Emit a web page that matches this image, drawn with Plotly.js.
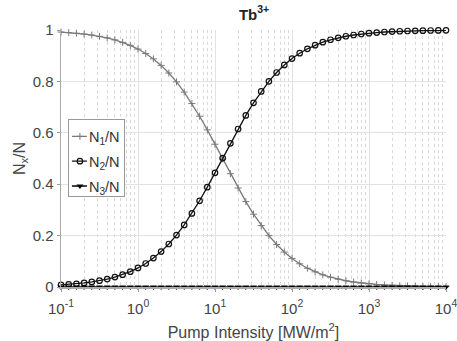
<!DOCTYPE html>
<html>
<head>
<meta charset="utf-8">
<script src="https://cdn.plot.ly/plotly-3.0.1.min.js"></script>
<style>html,body{margin:0;padding:0;background:#fff;}#chart{width:457px;height:341px;}</style>
</head>
<body>
<div id="chart"></div>
<script>
const intensity = [
  0.1, 0.12589, 0.15849, 0.19953, 0.25119, 0.31623, 0.39811, 0.50119, 0.63096, 0.79433,
  1, 1.2589, 1.5849, 1.9953, 2.5119, 3.1623, 3.9811, 5.0119, 6.3096, 7.9433,
  10, 12.589, 15.849, 19.953, 25.119, 31.623, 39.811, 50.119, 63.096, 79.433,
  100, 125.89, 158.49, 199.53, 251.19, 316.23, 398.11, 501.19, 630.96, 794.33,
  1000, 1258.9, 1584.9, 1995.3, 2511.9, 3162.3, 3981.1, 5011.9, 6309.6, 7943.3, 10000
];
const n1 = [
  0.99206, 0.99003, 0.98748, 0.98429, 0.98030, 0.97533, 0.96913, 0.96145, 0.95195, 0.94025,
  0.92593, 0.90850, 0.88748, 0.86235, 0.83267, 0.79809, 0.75844, 0.71380, 0.66456, 0.61144,
  0.55556, 0.49823, 0.44093, 0.38517, 0.33228, 0.28330, 0.23896, 0.19962, 0.16535, 0.13597,
  0.11111, 0.09032, 0.07310, 0.05895, 0.04740, 0.03803, 0.03044, 0.02433, 0.01943, 0.01549,
  0.01235, 0.00983, 0.00783, 0.00623, 0.00495, 0.00394, 0.00313, 0.00249, 0.00198, 0.00157, 0.00125
];
const n2 = [
  0.00794, 0.00997, 0.01252, 0.01571, 0.01970, 0.02467, 0.03087, 0.03855, 0.04805, 0.05975,
  0.07407, 0.09150, 0.11252, 0.13765, 0.16733, 0.20191, 0.24156, 0.28620, 0.33544, 0.38856,
  0.44444, 0.50177, 0.55907, 0.61483, 0.66772, 0.71670, 0.76104, 0.80038, 0.83465, 0.86403,
  0.88889, 0.90968, 0.92690, 0.94105, 0.95260, 0.96197, 0.96956, 0.97567, 0.98057, 0.98451,
  0.98765, 0.99017, 0.99217, 0.99377, 0.99505, 0.99606, 0.99687, 0.99751, 0.99802, 0.99843, 0.99875
];
const n3 = [
  0,0,0,0,0,0,0,0,0,0,
  0,0,0,0,0,0,0,0,0,0,
  0,0,0,0,0,0,0,0,0,0,
  0,0,0,0,0,0,0,0,0,0,
  0,0,0,0,0,0,0,0,0,0,0
];
const seriesNames = ['N<sub>1</sub>/N', 'N<sub>2</sub>/N', 'N<sub>3</sub>/N'];
const xTickVals = [0.1, 1, 10, 100, 1000, 10000];
const xTickText = ['10<sup>-1</sup>', '10<sup>0</sup>', '10<sup>1</sup>', '10<sup>2</sup>', '10<sup>3</sup>', '10<sup>4</sup>'];
const yTickVals = [0, 0.2, 0.4, 0.6, 0.8, 1];
const yTickText = ['0', '0.2', '0.4', '0.6', '0.8', '1'];

const FONT = 'Liberation Sans, Arial, sans-serif';
const traces = [
  {x: intensity, y: n1, name: seriesNames[0], legendgroup: 'g1', mode: 'lines+markers', cliponaxis: false,
   line: {color: '#7a7a7a', width: 1.3},
   marker: {symbol: 'cross-thin-open', size: 5, color: '#7a7a7a', line: {color: '#7a7a7a', width: 1}}},
  {x: intensity, y: n2, name: seriesNames[1], legendgroup: 'g2', mode: 'lines+markers', cliponaxis: false,
   line: {color: '#111', width: 1.3},
   marker: {symbol: 'circle-open', size: 5.5, color: '#111', line: {color: '#111', width: 1.2}}},
  {x: intensity, y: n3, name: seriesNames[2], legendgroup: 'g3', mode: 'lines+markers', cliponaxis: false,
   line: {color: '#000', width: 1.5},
   marker: {symbol: 'triangle-down', size: 6, color: '#000'}}
];
const layout = {
  width: 457, height: 341,
  margin: {l: 61, r: 11, t: 30, b: 54},
  paper_bgcolor: '#fff', plot_bgcolor: '#fff',
  font: {family: FONT, color: '#333', size: 14},
  title: {text: '<b>Tb<sup>3+</sup></b>', x: 0.556, xanchor: 'center', y: 0.958, yanchor: 'middle',
          font: {family: FONT, size: 15, color: '#222'}},
  showlegend: true,
  legend: {x: 0.018, y: 0.652, xanchor: 'left', yanchor: 'top', bgcolor: '#fff',
           bordercolor: '#999', borderwidth: 1, font: {family: FONT, size: 14.5, color: '#333'},
           tracegroupgap: 3, itemwidth: 30},
  xaxis: {
    type: 'log', range: [-1, 4],
    tickvals: xTickVals, ticktext: xTickText,
    ticks: 'outside', ticklen: 3, tickcolor: '#999',
    ticklabeloverflow: 'allow', ticklabelstandoff: 4,
    showgrid: true, gridcolor: '#e2e2e2', gridwidth: 1,
    minor: {dtick: 'D1', showgrid: true, gridcolor: '#d8d8d8', griddash: 'dot', ticks: ''},
    showline: true, linecolor: '#aaa', linewidth: 1.5,
    zeroline: false,
    tickfont: {family: FONT, size: 15, color: '#444'},
    title: {text: 'Pump Intensity [MW/m<sup>2</sup>]', font: {family: FONT, size: 16, color: '#444'}, standoff: 11}
  },
  yaxis: {
    range: [0, 1],
    tickvals: yTickVals, ticktext: yTickText,
    ticks: 'outside', ticklen: 3, tickcolor: '#999',
    ticklabeloverflow: 'allow',
    showgrid: true, gridcolor: '#e2e2e2', gridwidth: 1,
    showline: true, linecolor: '#aaa', linewidth: 1.5,
    zeroline: false,
    tickfont: {family: FONT, size: 15, color: '#444'},
    title: {text: 'N<sub>x</sub>/N', font: {family: FONT, size: 16, color: '#444'}, standoff: 3}
  }
};
Plotly.newPlot('chart', traces, layout, {displayModeBar: false, staticPlot: true}).then(function (gd) {
  // shorten the legend sample lines, MATLAB style
  const textX = 20;
  gd.querySelectorAll('.legend .traces').forEach(function (tr) {
    tr.querySelectorAll('.legendlines path').forEach(function (p) { p.setAttribute('d', 'M3,0h15'); });
    tr.querySelectorAll('.legendpoints path').forEach(function (p) { p.setAttribute('transform', 'translate(11,0)'); });
    tr.querySelectorAll('text.legendtext').forEach(function (t) {
      t.setAttribute('x', textX);
      t.querySelectorAll('tspan.line').forEach(function (s) { s.setAttribute('x', textX); });
    });
  });
  const bg = gd.querySelector('.legend rect.bg');
  if (bg) {
    bg.setAttribute('width', parseFloat(bg.getAttribute('width')) - 21);
    bg.setAttribute('height', parseFloat(bg.getAttribute('height')) - 6);
  }
});
</script>
</body>
</html>
